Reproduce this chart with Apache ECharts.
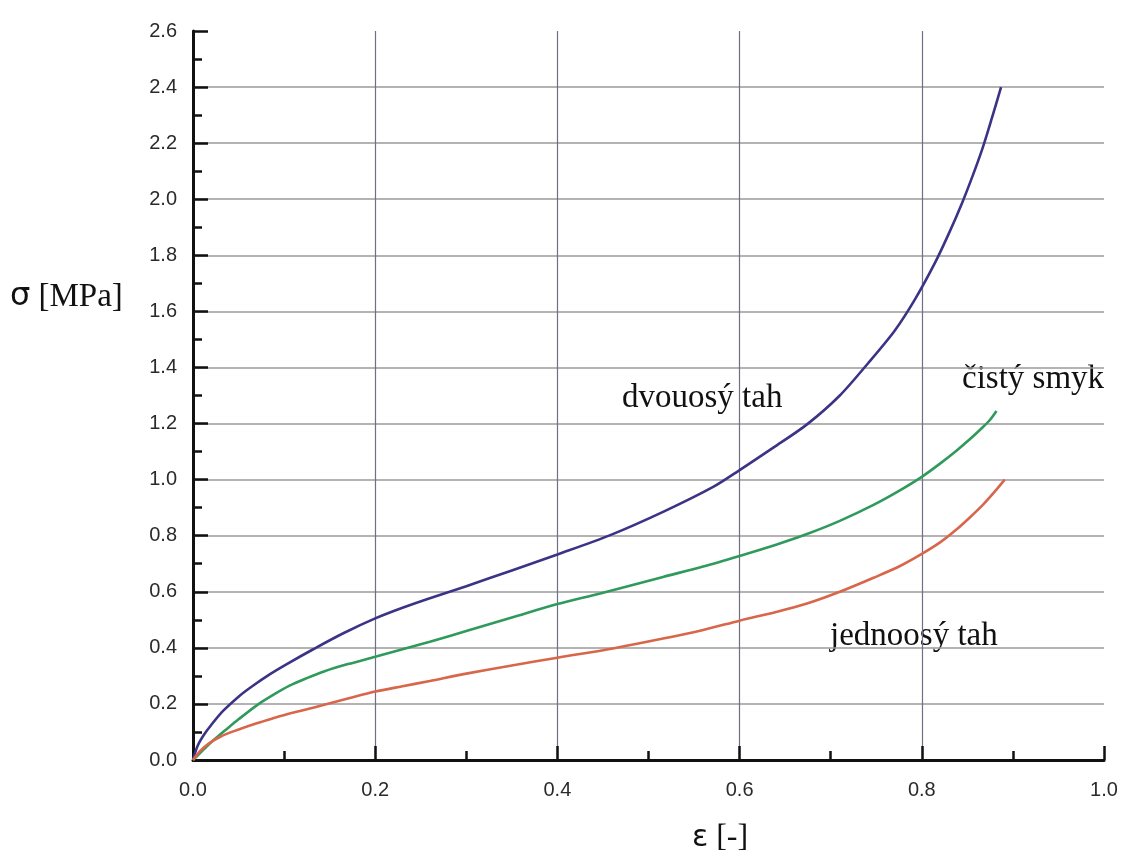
<!DOCTYPE html>
<html>
<head>
<meta charset="utf-8">
<script src="https://cdn.jsdelivr.net/npm/echarts@6/dist/echarts.min.js"></script>
<style>html,body{margin:0;padding:0;background:#fff;}#c{width:1126px;height:858px;}</style>
</head>
<body>
<div id="c"></div>
<script>
// dvouosý tah (biaxial tension)
const biaxX = [0, 0.005, 0.012, 0.02, 0.033, 0.05, 0.065, 0.085, 0.103, 0.132, 0.165, 0.2, 0.23, 0.26, 0.3, 0.35, 0.4, 0.458, 0.516, 0.571, 0.6, 0.637, 0.674, 0.71, 0.741, 0.77, 0.792, 0.814, 0.83, 0.844, 0.856, 0.867, 0.877, 0.887];
const biaxY = [0, 0.05, 0.09, 0.125, 0.175, 0.226, 0.263, 0.307, 0.342, 0.395, 0.452, 0.505, 0.543, 0.577, 0.62, 0.676, 0.733, 0.802, 0.885, 0.974, 1.034, 1.114, 1.197, 1.3, 1.415, 1.53, 1.64, 1.77, 1.88, 1.985, 2.085, 2.185, 2.29, 2.4];
// čistý smyk (pure shear)
const shearX = [0, 0.008, 0.015, 0.025, 0.035, 0.05, 0.07, 0.088, 0.106, 0.125, 0.143, 0.17, 0.2, 0.23, 0.26, 0.3, 0.35, 0.4, 0.447, 0.516, 0.56, 0.6, 0.64, 0.674, 0.71, 0.747, 0.775, 0.8, 0.82, 0.838, 0.852, 0.864, 0.874, 0.882];
const shearY = [0, 0.026, 0.048, 0.078, 0.105, 0.145, 0.195, 0.232, 0.265, 0.292, 0.315, 0.342, 0.368, 0.395, 0.422, 0.46, 0.508, 0.556, 0.594, 0.653, 0.69, 0.728, 0.768, 0.806, 0.853, 0.91, 0.96, 1.01, 1.057, 1.103, 1.142, 1.178, 1.21, 1.245];
// jednoosý tah (uniaxial tension)
const uniX = [0, 0.008, 0.018, 0.03, 0.045, 0.07, 0.088, 0.106, 0.125, 0.143, 0.17, 0.2, 0.23, 0.26, 0.3, 0.35, 0.4, 0.461, 0.516, 0.56, 0.6, 0.64, 0.674, 0.71, 0.747, 0.775, 0.8, 0.82, 0.838, 0.853, 0.867, 0.88, 0.891];
const uniY = [0, 0.032, 0.06, 0.083, 0.103, 0.131, 0.149, 0.166, 0.181, 0.196, 0.219, 0.244, 0.263, 0.282, 0.308, 0.337, 0.365, 0.398, 0.433, 0.464, 0.497, 0.528, 0.558, 0.6, 0.65, 0.69, 0.735, 0.776, 0.822, 0.866, 0.91, 0.957, 1.0];

const seriesNames = ['dvouosý tah', 'čistý smyk', 'jednoosý tah'];
const xTickLabels = ['0.0', '0.2', '0.4', '0.6', '0.8', '1.0'];
const yTickLabels = ['0.0','0.2','0.4','0.6','0.8','1.0','1.2','1.4','1.6','1.8','2.0','2.2','2.4','2.6'];

const zip = (xs, ys) => xs.map((x, i) => [x, ys[i]]);
const chart = echarts.init(document.getElementById('c'), null, {renderer: 'canvas'});

const tickFont = {fontFamily: 'Liberation Sans', fontSize: 20, color: '#2a2a2a'};

chart.setOption({
  animation: false,
  backgroundColor: '#ffffff',
  grid: {left: 193, right: 22, top: 31, bottom: 98},
  xAxis: {
    type: 'value', min: 0, max: 1.0, interval: 0.2,
    axisLine: {show: true, lineStyle: {color: '#111', width: 3}},
    axisTick: {show: true, inside: true, length: 14, lineStyle: {color: '#111', width: 2.5}},
    minorTick: {show: true, splitNumber: 2, length: 9, lineStyle: {color: '#111', width: 2.5}},
    splitLine: {show: true, showMinLine: false, showMaxLine: false, lineStyle: {color: '#6f6f86', width: 1.2}},
    axisLabel: Object.assign({margin: 20, formatter: (v) => xTickLabels[Math.round(v / 0.2)]}, tickFont)
  },
  yAxis: {
    type: 'value', min: 0, max: 2.6, interval: 0.2,
    axisLine: {show: true, lineStyle: {color: '#111', width: 3}},
    axisTick: {show: true, inside: true, length: 15, lineStyle: {color: '#111', width: 2.5}},
    minorTick: {show: true, splitNumber: 2, length: 9, lineStyle: {color: '#111', width: 2.5}},
    splitLine: {show: true, showMinLine: false, showMaxLine: false, lineStyle: {color: '#9a9a9a', width: 1.5}},
    axisLabel: Object.assign({margin: 16, formatter: (v) => yTickLabels[Math.round(v / 0.2)]}, tickFont)
  },
  series: [
    {name: seriesNames[0], type: 'line', data: zip(biaxX, biaxY), smooth: 0.3, showSymbol: false, lineStyle: {color: '#3b3486', width: 2.6}},
    {name: seriesNames[1], type: 'line', data: zip(shearX, shearY), smooth: 0.3, showSymbol: false, lineStyle: {color: '#2f9a5c', width: 2.6}},
    {name: seriesNames[2], type: 'line', data: zip(uniX, uniY), smooth: 0.3, showSymbol: false, lineStyle: {color: '#d8664a', width: 2.6}}
  ],
  graphic: [
    {type: 'text', x: 622, y: 398, style: {text: seriesNames[0], font: '33px "Liberation Serif"', fill: '#111', verticalAlign: 'middle', textVerticalAlign: 'middle'}},
    {type: 'text', x: 962, y: 379, style: {text: seriesNames[1], font: '33px "Liberation Serif"', fill: '#111', verticalAlign: 'middle', textVerticalAlign: 'middle'}},
    {type: 'text', x: 830, y: 636, style: {text: seriesNames[2], font: '33px "Liberation Serif"', fill: '#111', verticalAlign: 'middle', textVerticalAlign: 'middle'}},
    {type: 'text', x: 10, y: 297, style: {
      text: '{a|σ}{b| [MPa]}', verticalAlign: 'middle', textVerticalAlign: 'middle',
      rich: {a: {fontFamily: 'DejaVu Sans', fontSize: 32, fill: '#111', color: '#111'}, b: {fontFamily: 'Liberation Serif', fontSize: 33, fill: '#111', color: '#111'}}
    }},
    {type: 'text', x: 692, y: 838, style: {
      text: '{a|ε}{b| [-]}', verticalAlign: 'middle', textVerticalAlign: 'middle',
      rich: {a: {fontFamily: 'DejaVu Sans', fontSize: 30, fill: '#111', color: '#111'}, b: {fontFamily: 'Liberation Serif', fontSize: 32, fill: '#111', color: '#111'}}
    }}
  ]
});
</script>
</body>
</html>
